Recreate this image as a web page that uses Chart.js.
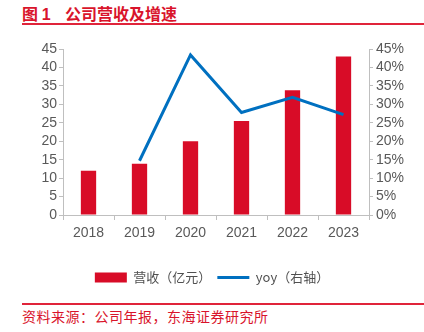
<!DOCTYPE html>
<html>
<head>
<meta charset="utf-8">
<script src="https://cdn.jsdelivr.net/npm/chart.js@4"></script>
<style>
  body { margin: 0; background: #fff; }
  #wrap { position: relative; width: 424px; height: 332px; overflow: hidden; font-family: "Noto Sans CJK SC", sans-serif; }
  #title { position: absolute; left: 22px; top: 2px; font-size: 16px; font-weight: bold; color: #d9142b; white-space: pre; line-height: 22px; }
  #title .num { font-family: "Liberation Sans", Arial, sans-serif; }
  .rule { position: absolute; left: 22px; right: 0; height: 2px; background: #e0243a; }
  #source { position: absolute; left: 22px; top: 306px; font-size: 14px; color: #d9142b; line-height: 21px; letter-spacing: 0.5px; }
  #chartBox { position: absolute; left: 0; top: 0; width: 424px; height: 300px; }
</style>
</head>
<body>
<div id="wrap">
  <div id="title">图 <span class="num">1</span>    公司营收及增速</div>
  <div class="rule" style="top:23px"></div>
  <div id="chartBox"><canvas id="chart"></canvas></div>
  <div class="rule" style="top:303px"></div>
  <div id="source">资料来源：公司年报，东海证券研究所</div>
</div>
<script>
// revenue (100m CNY) and year-on-year growth (%)
const years = ['2018', '2019', '2020', '2021', '2022', '2023'];
const revenue = [12.0, 13.9, 20.0, 25.5, 33.8, 43.0];
const yoy = [null, 14.7, 43.4, 27.8, 31.9, 27.2];

const axisGrey = '#bfbfbf';
const tickFont = { family: 'Liberation Sans, Arial, sans-serif', size: 14 };

new Chart(document.getElementById('chart'), {
  data: {
    labels: years,
    datasets: [
      {
        type: 'line',
        label: 'yoy（右轴）',
        data: yoy,
        yAxisID: 'y1',
        borderColor: '#0070c0',
        backgroundColor: '#0070c0',
        borderWidth: 3,
        pointRadius: 0,
        tension: 0,
        order: 0
      },
      {
        type: 'bar',
        label: '营收（亿元）',
        data: revenue,
        yAxisID: 'y',
        backgroundColor: '#d80c27',
        barPercentage: 0.3,
        categoryPercentage: 1,
        order: 1
      }
    ]
  },
  options: {
    responsive: true,
    maintainAspectRatio: false,
    animation: false,
    layout: { padding: { top: 49, bottom: 6 } },
    plugins: {
      tooltip: { enabled: false },
      legend: {
        position: 'bottom',
        reverse: true,
        labels: {
          usePointStyle: true,
          pointStyleWidth: 32,
          boxHeight: 10,
          padding: 6,
          color: '#505050',
          font: { family: 'Noto Sans CJK SC', size: 13 },
          generateLabels(chart) {
            return chart.data.datasets.map((ds, i) => ({
              text: ds.label,
              datasetIndex: i,
              pointStyle: ds.type === 'bar' ? 'rect' : 'line',
              fillStyle: ds.type === 'bar' ? ds.backgroundColor : ds.borderColor,
              strokeStyle: ds.type === 'bar' ? ds.backgroundColor : ds.borderColor,
              lineWidth: ds.type === 'bar' ? 0 : 3,
              fontColor: '#505050'
            }));
          }
        }
      }
    },
    scales: {
      x: {
        grid: { display: true, drawOnChartArea: false, color: axisGrey, tickLength: 5, offset: true },
        border: { color: axisGrey },
        ticks: { color: '#595959', font: tickFont, padding: 5 },
        afterFit(scale) { scale.height = 50; }
      },
      y: {
        position: 'left',
        min: 0,
        max: 45,
        ticks: { stepSize: 5, autoSkip: false, color: '#595959', font: tickFont, padding: 2 },
        grid: { drawOnChartArea: false, color: axisGrey, tickLength: 4 },
        border: { color: axisGrey },
        afterFit(scale) { scale.width = 63; }
      },
      y1: {
        position: 'right',
        min: 0,
        max: 45,
        ticks: { stepSize: 5, autoSkip: false, color: '#595959', font: tickFont, padding: 3, callback: v => v + '%' },
        grid: { drawOnChartArea: false, color: axisGrey, tickLength: 4 },
        border: { color: axisGrey },
        afterFit(scale) { scale.width = 55; }
      }
    }
  }
});
</script>
</body>
</html>
